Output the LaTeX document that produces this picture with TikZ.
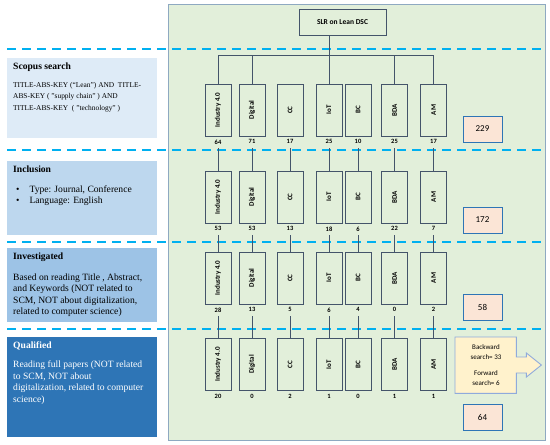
\documentclass[tikz,border=0pt]{standalone}
\usepackage{fontspec}
\setmainfont{Liberation Serif}
\newfontfamily\calibri{Carlito}
\usepackage{tikz}
\usetikzlibrary{
  arrows.meta,
  positioning,
  calc
}
\definecolor{panelfill}{HTML}{E2EFDA}
\definecolor{panelline}{HTML}{8EA9C1}
\definecolor{sepline}{HTML}{00B0F0}
\definecolor{boxline}{HTML}{44546A}
\definecolor{countfill}{HTML}{FBE5D6}
\definecolor{countline}{HTML}{2E75B6}
\definecolor{calloutfill}{HTML}{FFF2CC}
\definecolor{calloutline}{HTML}{8FAADC}
\definecolor{scopus}{HTML}{DEEBF7}
\definecolor{inclusion}{HTML}{BDD7EE}
\definecolor{investigated}{HTML}{9DC3E6}
\definecolor{qualified}{HTML}{2E75B6}

\begin{document}
\begin{tikzpicture}[
  x=1pt,y=-1pt,
  phase/.style={rectangle,anchor=north west,inner xsep=6pt,inner ysep=5pt,font=\fontsize{9.6}{11.4}\selectfont},
  techbox/.style={rectangle,draw=boxline,line width=0.9pt,minimum width=26pt,minimum height=52pt,inner sep=0pt},
  techlabel/.style={rotate=90,font=\calibri\bfseries\fontsize{7}{8}\selectfont},
  count/.style={font=\calibri\bfseries\fontsize{6.5}{7}\selectfont,inner sep=1pt},
  total/.style={rectangle,draw=countline,line width=0.9pt,fill=countfill,minimum width=39pt,minimum height=26pt,font=\calibri\fontsize{9}{10}\selectfont},
  link/.style={draw=boxline,line width=0.9pt},
  sep/.style={draw=sepline,line width=1.6pt,dash pattern=on 9pt off 6pt},
]
\useasboundingbox (0,0) rectangle (550,445);

% left column
\node[phase,fill=scopus] (scopus) at (7,58) {\parbox[c][70pt][t]{138pt}{{\bfseries Scopus search}\\[6pt]
  {\fontsize{7.4}{10}\selectfont TITLE-ABS-KEY (``Lean'') AND\ \ TITLE-\\ABS-KEY ( "supply chain" ) AND\\TITLE-ABS-KEY\ \ ( "technology" )}}};
\node[phase,fill=inclusion] (inclusion) at (7,161) {\parbox[c][64pt][t]{138pt}{{\bfseries Inclusion}\\[8pt]
  \hspace*{3pt}\textbullet\hspace{10pt}Type: Journal, Conference\\
  \hspace*{3pt}\textbullet\hspace{10pt}Language: English}};
\node[phase,fill=investigated] (investigated) at (7,248) {\parbox[c][64pt][t]{138pt}{{\bfseries Investigated}\\[9pt]
  Based on reading Title , Abstract,\\and Keywords (NOT related to\\SCM, NOT about digitalization,\\related to computer science)}};
\node[phase,fill=qualified,text=white] (qualified) at (7,337) {\parbox[c][90pt][t]{138pt}{{\bfseries Qualified}\\[7.5pt]
  Reading full papers (NOT related\\to SCM, NOT about\\digitalization, related to computer\\science)}};

% right panel
\node[rectangle,draw=panelline,line width=0.9pt,fill=panelfill,anchor=north west,minimum width=377pt,minimum height=436pt] (panel) at (168,4) {};
\node[rectangle,draw=boxline,line width=0.9pt,fill=panelfill,minimum width=87pt,minimum height=26pt,font=\calibri\bfseries\fontsize{7.5}{9}\selectfont] (title) at (342.5,22) {SLR on Lean DSC};

% separators
\foreach \yy in {49,150,242,329}
  \draw[sep] (scopus.west |- 0,\yy) -- (panel.east |- 0,\yy);

% technology boxes, one row per phase
\foreach \row/\yy/\counts in {1/110/{64,71,17,25,10,25,17},2/197/{53,53,13,18,6,22,7},3/278/{28,13,5,6,4,0,2},4/364.5/{20,0,2,1,0,1,1}}{
  \foreach \col/\xx/\tech in {1/218/Industry 4.0,2/252/Digital,3/290/CC,4/329/IoT,5/358/BC,6/394.5/BDA,7/433.5/AM}{
    \node[techbox] (b\row-\col) at (\xx,\yy) {};
    \node[techlabel] at (b\row-\col) {\tech};
  }
  \foreach \c [count=\k] in \counts
    \node[count,below=2pt of b\row-\k] (n\row-\k) {\c};
}

% tree from the title
\coordinate (bar) at (0,55);
\draw[link] (b1-1.north) |- (b1-7.north |- bar) -- (b1-7.north);
\draw[link] (b1-2.north) -- (b1-2.north |- bar);
\draw[link] (b1-6.north) -- (b1-6.north |- bar);
\draw[link] (b1-4.north) -- (b1-4.north |- title.south);

% links between rows
\foreach \k in {1,...,7}{
  \draw[link] ([yshift=-3pt]n1-\k.south) -- (b2-\k.north);
  \draw[link] ([yshift=-3pt]n2-\k.south) -- (b3-\k.north);
  \draw[link] ([yshift=-3pt]n3-\k.south) -- (b4-\k.north);
}

% totals
\node[total] (t229) at (482.5,129) {229};
\node[total] (t172) at (482.5,220) {172};
\node[total] (t58) at (482.5,307) {58};
\node[total] (t64) at (482.5,417) {64};

% snowballing callout
\node[rectangle,fill=calloutfill,anchor=north west,minimum width=61pt,minimum height=56pt,inner sep=0pt] (snow) at (455,337) {};
\draw[draw=calloutline,fill=calloutfill,line width=0.9pt] (snow.north west) -- (snow.north east) -- ++(0,20) -- ++(10,0) -- ++(0,-4) -- ++(15,12) -- ++(-15,12) -- ++(0,-4) -- ++(-10,0) -- (snow.south east) -- (snow.south west) -- cycle;
\node[align=center,font=\calibri\fontsize{7}{10}\selectfont] (snowtext) at (486,365) {Backward\\search= 33\\[6pt]Forward\\search= 6};
\end{tikzpicture}
\end{document}
